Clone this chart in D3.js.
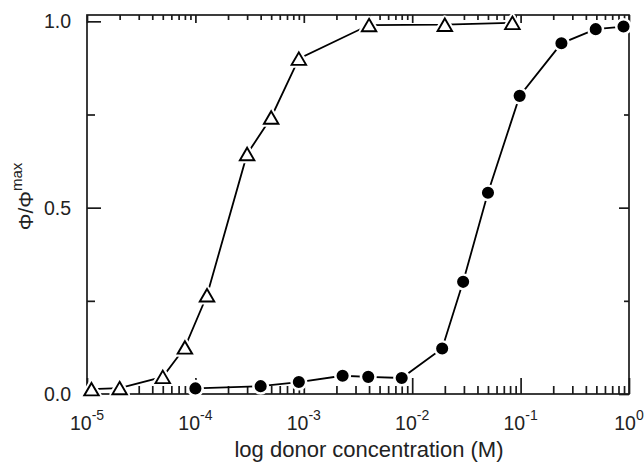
<!DOCTYPE html>
<html>
<head>
<meta charset="utf-8">
<script src="https://cdn.jsdelivr.net/npm/d3@7"></script>
<style>
  html, body { margin: 0; padding: 0; background: #fff; }
  svg { display: block; }
  text { font-family: "Liberation Sans", Arial, Helvetica, sans-serif; fill: #222; }
</style>
</head>
<body>
<svg id="chart" width="644" height="467"></svg>
<script>
// Donor concentrations (M) and normalised quantum yield Φ/Φmax
const triConc = [1.1e-5, 2.0e-5, 5.0e-5, 8.0e-5, 1.28e-4, 3.0e-4, 5.0e-4, 9.0e-4, 4.0e-3, 2.0e-2, 8.4e-2];
const triVal  = [0.013, 0.016, 0.046, 0.125, 0.265, 0.644, 0.742, 0.900, 0.990, 0.991, 0.996];

const dotConc = [1.0e-4, 4.0e-4, 9.0e-4, 2.28e-3, 3.93e-3, 8.0e-3, 1.89e-2, 2.95e-2, 5.0e-2, 9.8e-2, 0.238, 0.493, 0.89];
const dotVal  = [0.015, 0.021, 0.032, 0.049, 0.046, 0.043, 0.122, 0.301, 0.540, 0.800, 0.941, 0.979, 0.986];

const xDecades = [1e-5, 1e-4, 1e-3, 1e-2, 1e-1, 1e0];
const xExponents = ["-5", "-4", "-3", "-2", "-1", "0"];
const yMajor = [0, 0.5, 1.0];
const yMajorLabels = ["0.0", "0.5", "1.0"];
const yMinor = [0.25, 0.75];

const svg = d3.select("#chart");
const L = 87, R = 629, T = 15, B = 394;

const x = d3.scaleLog().domain([1e-5, 1]).range([L, R]);
const y = d3.scaleLinear().domain([0, 1.017]).range([B, T]);

// minor ticks: 2..9 within each decade
const xMinor = [];
for (let i = 0; i < xDecades.length - 1; i++) {
  for (let k = 2; k <= 9; k++) xMinor.push(xDecades[i] * k);
}

const axisColor = "#1a1a1a";
const axisWidth = 1.7;

function styleAxis(g) {
  g.select(".domain").remove();
  g.selectAll(".tick line").attr("stroke", axisColor).attr("stroke-width", axisWidth);
  g.selectAll(".tick text").remove();
}

// bottom axis (ticks pointing into the plot)
svg.append("g").attr("transform", `translate(0,${B})`)
  .call(d3.axisBottom(x).tickValues(xDecades).tickSize(-16).tickFormat(""))
  .call(styleAxis);
svg.append("g").attr("transform", `translate(0,${B})`)
  .call(d3.axisBottom(x).tickValues(xMinor).tickSize(-8).tickFormat(""))
  .call(styleAxis);

// top axis
svg.append("g").attr("transform", `translate(0,${T})`)
  .call(d3.axisTop(x).tickValues(xDecades).tickSize(-8).tickFormat(""))
  .call(styleAxis);
svg.append("g").attr("transform", `translate(0,${T})`)
  .call(d3.axisTop(x).tickValues(xMinor).tickSize(-5).tickFormat(""))
  .call(styleAxis);

// left axis
svg.append("g").attr("transform", `translate(${L},0)`)
  .call(d3.axisLeft(y).tickValues(yMajor).tickSize(-14).tickFormat(""))
  .call(styleAxis);
svg.append("g").attr("transform", `translate(${L},0)`)
  .call(d3.axisLeft(y).tickValues(yMinor).tickSize(-8).tickFormat(""))
  .call(styleAxis);

// right axis
svg.append("g").attr("transform", `translate(${R},0)`)
  .call(d3.axisRight(y).tickValues(yMajor).tickSize(-10).tickFormat(""))
  .call(styleAxis);
svg.append("g").attr("transform", `translate(${R},0)`)
  .call(d3.axisRight(y).tickValues(yMinor).tickSize(-5).tickFormat(""))
  .call(styleAxis);

// frame
svg.append("rect")
  .attr("x", L).attr("y", T).attr("width", R - L).attr("height", B - T)
  .attr("fill", "none").attr("stroke", axisColor).attr("stroke-width", axisWidth);

// x tick labels: 10^n
const xLab = svg.append("g").selectAll("text").data(xDecades).join("text")
  .attr("x", d => x(d))
  .attr("y", 430)
  .attr("text-anchor", "middle")
  .style("font-size", "19.5px");
xLab.append("tspan").text("10");
xLab.append("tspan").attr("dy", -10).style("font-size", "14px").text((d, i) => xExponents[i]);

// y tick labels
svg.append("g").selectAll("text").data(yMajor).join("text")
  .attr("x", 71)
  .attr("y", d => y(d))
  .attr("dy", "0.36em")
  .attr("text-anchor", "end")
  .style("font-size", "19.5px")
  .text((d, i) => yMajorLabels[i]);

// axis titles
svg.append("text")
  .attr("x", (L + R) / 2 + 11)
  .attr("y", 457)
  .attr("text-anchor", "middle")
  .style("font-size", "22px")
  .text("log donor concentration (M)");

const yt = svg.append("text")
  .attr("transform", `translate(33,${(T + B) / 2 - 8}) rotate(-90)`)
  .attr("text-anchor", "middle")
  .style("font-size", "21px");
yt.append("tspan").text("Φ/Φ");
yt.append("tspan").attr("dy", -11).style("font-size", "15px").text("max");

// series
const tri = triConc.map((c, i) => ({ c, v: triVal[i] }));
const dot = dotConc.map((c, i) => ({ c, v: dotVal[i] }));

const line = d3.line().x(d => x(d.c)).y(d => y(d.v));

svg.append("path").datum(tri).attr("d", line)
  .attr("fill", "none").attr("stroke", "#000").attr("stroke-width", 1.8);
svg.append("path").datum(dot).attr("d", line)
  .attr("fill", "none").attr("stroke", "#000").attr("stroke-width", 1.8);

// open triangle centred on its bounding box
const triW = 14.5, triH = 12.5;
const triPath = `M0,${-triH / 2}L${triW / 2},${triH / 2}L${-triW / 2},${triH / 2}Z`;

const triG = svg.append("g").selectAll("g").data(tri).join("g")
  .attr("transform", d => `translate(${x(d.c)},${y(d.v)})`);
triG.append("path").attr("d", triPath)
  .attr("fill", "#fff").attr("stroke", "#fff").attr("stroke-width", 6).attr("stroke-linejoin", "round");
triG.append("path").attr("d", triPath)
  .attr("fill", "#fff").attr("stroke", "#000").attr("stroke-width", 1.9).attr("stroke-linejoin", "miter");

svg.append("g").selectAll("circle").data(dot).join("circle")
  .attr("cx", d => x(d.c)).attr("cy", d => y(d.v))
  .attr("r", 7.3)
  .attr("fill", "#000").attr("stroke", "#fff").attr("stroke-width", 2.5);
</script>
</body>
</html>
